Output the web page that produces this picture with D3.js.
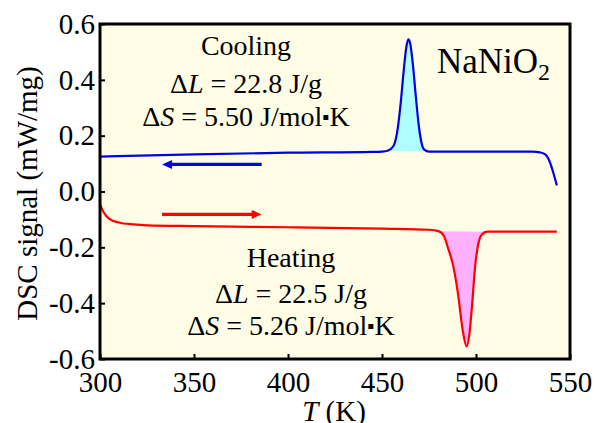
<!DOCTYPE html>
<html>
<head>
<meta charset="UTF-8">
<title>DSC NaNiO2</title>
<script src="https://d3js.org/d3.v7.min.js"></script>
<style>
    body { margin: 0; background: #fff; }
    text { font-family: "Liberation Serif", "Times New Roman", serif; fill: #000; }
</style>
</head>
<body>
<svg id="chart" width="594" height="423"></svg>
<script>
// temperature (K) and DSC signal (mW/mg)
var coolT = [300, 350, 400, 445, 450, 453, 456, 458, 460, 461.5, 463, 464, 465, 466.5, 468, 469.5, 471, 472.5, 475, 500, 530, 534, 537, 539, 541, 543];
var coolV = [0.125, 0.133, 0.139, 0.142, 0.143, 0.146, 0.162, 0.21, 0.32, 0.43, 0.52, 0.545, 0.53, 0.45, 0.34, 0.24, 0.175, 0.150, 0.143, 0.143, 0.143, 0.14, 0.132, 0.11, 0.07, 0.022];

var heatT = [300, 302, 305, 310, 318, 325, 350, 400, 450, 475, 480, 483, 485, 488, 490.5, 493, 495, 496.5, 498, 499.5, 501, 503, 506, 520, 543];
var heatV = [-0.045, -0.075, -0.098, -0.111, -0.118, -0.121, -0.124, -0.128, -0.133, -0.137, -0.142, -0.16, -0.20, -0.27, -0.37, -0.50, -0.555, -0.51, -0.40, -0.27, -0.195, -0.155, -0.144, -0.144, -0.144];

// range of the shaded peaks
var coolPeak = [452, 475];
var heatPeak = [478, 506];

var xTicks = [300, 350, 400, 450, 500, 550];
var yTicks = [-0.6, -0.4, -0.2, 0.0, 0.2, 0.4, 0.6];

var pL = 100, pR = 570, pT = 24, pB = 359;
var serif = "Liberation Serif, Times New Roman, serif";

var svg = d3.select("#chart");

var x = d3.scaleLinear().domain([300, 550]).range([pL, pR]);
var y = d3.scaleLinear().domain([-0.6, 0.6]).range([pB, pT]);

// plot background
svg.append("rect")
    .attr("x", pL).attr("y", pT)
    .attr("width", pR - pL).attr("height", pB - pT)
    .attr("fill", "#fffde6");

var cool = coolT.map(function (t, i) { return [t, coolV[i]]; });
var heat = heatT.map(function (t, i) { return [t, heatV[i]]; });

var line = d3.line()
    .x(function (d) { return x(d[0]); })
    .y(function (d) { return y(d[1]); })
    .curve(d3.curveMonotoneX);

// shaded peak areas (closed with a straight baseline)
function inRange(r) {
    return function (d) { return d[0] >= r[0] && d[0] <= r[1]; };
}
svg.append("path")
    .attr("d", line(cool.filter(inRange(coolPeak))) + "Z")
    .attr("fill", "#b0ffff");
svg.append("path")
    .attr("d", line(heat.filter(inRange(heatPeak))) + "Z")
    .attr("fill", "#ffb0ff");

svg.append("path").attr("d", line(cool))
    .attr("fill", "none").attr("stroke", "#0000e6").attr("stroke-width", 2.2);
svg.append("path").attr("d", line(heat))
    .attr("fill", "none").attr("stroke", "#ff0000").attr("stroke-width", 2.2);

// direction arrows
function arrow(t0, t1, v, color) {
    var x0 = x(t0), x1 = x(t1), yy = y(v);
    var dir = x1 > x0 ? 1 : -1;
    svg.append("line")
        .attr("x1", x0).attr("y1", yy)
        .attr("x2", x1 - dir * 7).attr("y2", yy)
        .attr("stroke", color).attr("stroke-width", 3.2);
    svg.append("path")
        .attr("d", "M" + x1 + "," + yy + "L" + (x1 - dir * 10) + "," + (yy - 4.5) +
                   "L" + (x1 - dir * 10) + "," + (yy + 4.5) + "Z")
        .attr("fill", color);
}
arrow(386, 333, 0.097, "#0000e6");
arrow(333, 386, -0.082, "#ff0000");

// axes with inward ticks
function styleAxis(g) {
    g.attr("font-family", serif).attr("font-size", 29);
    g.select(".domain").remove();
    g.selectAll("line").attr("stroke-width", 2);
}

svg.append("g")
    .attr("transform", "translate(0," + pB + ")")
    .call(d3.axisBottom(x).tickValues(xTicks).tickSizeInner(-5).tickSizeOuter(0).tickPadding(12))
    .call(styleAxis);

svg.append("g")
    .attr("transform", "translate(" + pL + ",0)")
    .call(d3.axisLeft(y).tickValues(yTicks).tickSizeInner(-5).tickSizeOuter(0).tickPadding(5)
        .tickFormat(function (d) { return d.toFixed(1); }))
    .call(styleAxis);

// frame
svg.append("rect")
    .attr("x", pL).attr("y", pT)
    .attr("width", pR - pL).attr("height", pB - pT)
    .attr("fill", "none").attr("stroke", "#000").attr("stroke-width", 3);

// axis titles
svg.append("text")
    .attr("transform", "translate(37," + ((pT + pB) / 2 + 2) + ") rotate(-90)")
    .attr("text-anchor", "middle").attr("font-size", 29)
    .text("DSC signal (mW/mg)");

var xl = svg.append("text")
    .attr("x", 334).attr("y", 421)
    .attr("text-anchor", "middle").attr("font-size", 29);
xl.append("tspan").attr("font-style", "italic").text("T");
xl.append("tspan").text(" (K)");

// annotations
function block(cx, ys, title, dl, ds) {
    svg.append("text").attr("x", cx).attr("y", ys[0])
        .attr("text-anchor", "middle").attr("font-size", 28).text(title);
    var t1 = svg.append("text").attr("x", cx).attr("y", ys[1])
        .attr("text-anchor", "middle").attr("font-size", 28);
    t1.append("tspan").text("\u0394");
    t1.append("tspan").attr("font-style", "italic").text("L");
    t1.append("tspan").text(" = " + dl + " J/g");
    var t2 = svg.append("text").attr("x", cx).attr("y", ys[2])
        .attr("text-anchor", "middle").attr("font-size", 28);
    t2.append("tspan").text("\u0394");
    t2.append("tspan").attr("font-style", "italic").text("S");
    t2.append("tspan").text(" = " + ds + " J/mol");
    t2.append("tspan").attr("font-size", 20).attr("dy", -2).text("\u25aa");
    t2.append("tspan").attr("dy", 2).text("K");
}
block(246, [55, 93, 126], "Cooling", "22.8", "5.50");
block(291, [267, 303, 335], "Heating", "22.5", "5.26");

var nm = svg.append("text").attr("x", 437).attr("y", 73).attr("font-size", 35);
nm.append("tspan").text("NaNiO");
nm.append("tspan").attr("font-size", 24).attr("dy", 7).text("2");
</script>
</body>
</html>
